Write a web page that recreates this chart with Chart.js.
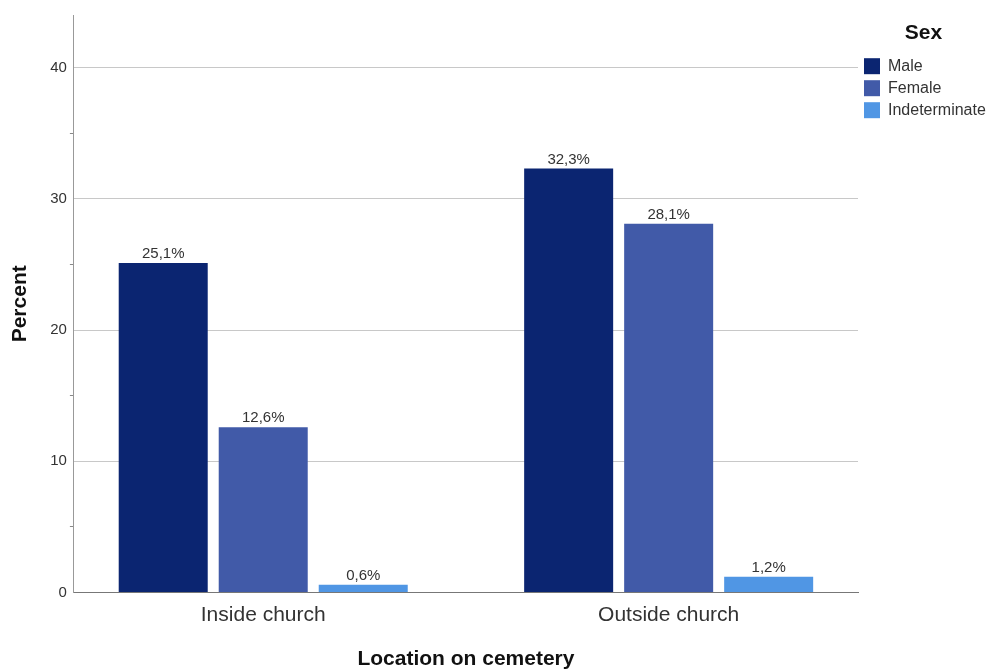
<!DOCTYPE html>
<html>
<head>
<meta charset="utf-8">
<script src="https://cdn.jsdelivr.net/npm/chart.js@4/dist/chart.umd.min.js"></script>
<style>
  html, body { margin: 0; padding: 0; background: #fff; }
  #wrap { width: 989px; height: 669px; position: relative; }
</style>
</head>
<body>
<div id="wrap"><canvas id="barChart"></canvas></div>
<script>
// data
var categories = ['Inside church', 'Outside church'];
var seriesNames = ['Male', 'Female', 'Indeterminate'];
var male = [25.1, 32.3];
var female = [12.6, 28.1];
var indeterminate = [0.6, 1.2];
var colors = ['#0b2571', '#415aa8', '#5096e4'];
var yTicks = [0, 10, 20, 30, 40];

var allSeries = [male, female, indeterminate];

function fmt(v) {
    return v.toFixed(1).replace('.', ',') + '%';
}

// values above the bars
var barLabels = {
    id: 'barLabels',
    afterDatasetsDraw: function (chart) {
        var ctx = chart.ctx;
        ctx.save();
        ctx.font = '15px "Liberation Sans", Arial, sans-serif';
        ctx.fillStyle = '#333';
        ctx.textAlign = 'center';
        ctx.textBaseline = 'alphabetic';
        chart.data.datasets.forEach(function (ds, i) {
            chart.getDatasetMeta(i).data.forEach(function (bar, j) {
                ctx.fillText(fmt(ds.data[j].y), bar.x, bar.y - 5);
            });
        });
        ctx.restore();
    }
};

var datasets = seriesNames.map(function (name, i) {
    return {
        label: name,
        data: allSeries[i].map(function (v, j) { return { x: j, y: v }; }),
        backgroundColor: colors[i],
        borderWidth: 0,
        barPercentage: 0.89,
        categoryPercentage: 0.74
    };
});

var fontFam = '"Liberation Sans", Arial, sans-serif';

var chart = new Chart(document.getElementById('barChart'), {
    type: 'bar',
    data: { datasets: datasets },
    options: {
        responsive: true,
        maintainAspectRatio: false,
        animation: false,
        layout: { padding: { left: 8, top: 15, right: 0, bottom: -3 } },
        scales: {
            x: {
                type: 'linear',
                offset: false,
                min: -0.467,
                max: 1.467,
                afterBuildTicks: function (scale) {
                    scale.ticks = categories.map(function (c, i) { return { value: i }; });
                },
                grid: { display: false },
                border: { display: true, color: '#777', width: 1 },
                ticks: {
                    autoSkip: false,
                    maxRotation: 0,
                    padding: 2,
                    color: '#333',
                    font: { family: fontFam, size: 21 },
                    callback: function (value) {
                        return Number.isInteger(value) ? categories[value] : '';
                    }
                },
                title: {
                    display: true,
                    text: 'Location on cemetery',
                    color: '#111',
                    font: { family: fontFam, size: 21, weight: 'bold' },
                    padding: { top: 17, bottom: 0 }
                }
            },
            y: {
                min: 0,
                max: 44,
                border: { display: true, color: '#999', width: 1 },
                grid: {
                    color: function (c) {
                        var v = c.tick ? c.tick.value : 0;
                        return (v > 0 && yTicks.indexOf(v) >= 0) ? '#c8c8c8' : 'rgba(0,0,0,0)';
                    },
                    tickColor: function (c) {
                        var v = c.tick ? c.tick.value : 0;
                        return (v % 10 === 5) ? '#888' : 'rgba(0,0,0,0)';
                    },
                    tickLength: 4
                },
                ticks: {
                    stepSize: 5,
                    padding: 3,
                    color: '#333',
                    font: { family: fontFam, size: 15 },
                    callback: function (value) {
                        return yTicks.indexOf(value) >= 0 ? value : '';
                    }
                },
                title: {
                    display: true,
                    text: 'Percent',
                    color: '#111',
                    font: { family: fontFam, size: 21, weight: 'bold' },
                    padding: { top: 0, bottom: 14 }
                }
            }
        },
        plugins: {
            legend: {
                position: 'right',
                align: 'start',
                maxWidth: 131,
                title: {
                    display: true,
                    text: 'Sex',
                    color: '#111',
                    font: { family: fontFam, size: 21, weight: 'bold' },
                    padding: { top: 8, bottom: 4 }
                },
                labels: {
                    boxWidth: 16,
                    boxHeight: 16,
                    padding: 6,
                    color: '#333',
                    font: { family: fontFam, size: 16 }
                }
            },
            tooltip: { enabled: false }
        }
    },
    plugins: [barLabels]
});
</script>
</body>
</html>
